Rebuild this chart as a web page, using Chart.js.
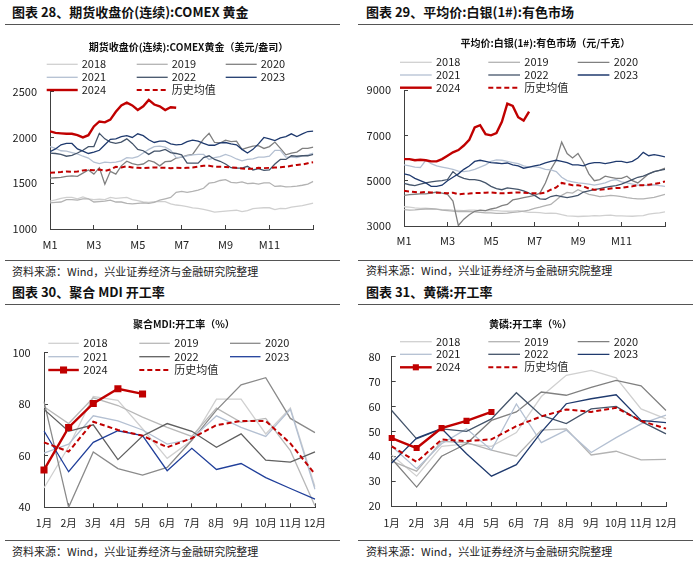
<!DOCTYPE html>
<html><head><meta charset="utf-8">
<script src="https://cdn.jsdelivr.net/npm/chart.js@4.4.1/dist/chart.umd.min.js"></script>
<style>
body{margin:0;width:700px;height:562px;background:#fff;position:relative;overflow:hidden;font-family:"Noto Sans CJK SC",sans-serif}
.ttl{position:absolute;font-weight:bold;font-size:13px;color:#111;white-space:nowrap;line-height:16px}
.sep{position:absolute;height:0;border-top:1.3px solid #555}
.src{position:absolute;font-size:11px;color:#222;white-space:nowrap;line-height:14px}
canvas{position:absolute}
</style></head><body>
<div class="ttl" style="left:12px;top:4px">图表 28、期货收盘价(连续):COMEX 黄金</div>
<div class="ttl" style="left:366px;top:4px">图表 29、平均价:白银(1#):有色市场</div>
<div class="ttl" style="left:12px;top:284px">图表 30、聚合 MDI 开工率</div>
<div class="ttl" style="left:366px;top:284px">图表 31、黄磷:开工率</div>
<div class="sep" style="left:5px;top:24px;width:335px"></div>
<div class="sep" style="left:358px;top:24px;width:335px"></div>
<div class="sep" style="left:5px;top:260px;width:335px"></div>
<div class="sep" style="left:358px;top:260px;width:335px"></div>
<div class="sep" style="left:5px;top:304px;width:335px"></div>
<div class="sep" style="left:358px;top:304px;width:335px"></div>
<div class="sep" style="left:5px;top:540px;width:335px"></div>
<div class="sep" style="left:358px;top:540px;width:335px"></div>
<div class="src" style="left:12px;top:264px">资料来源：Wind，兴业证券经济与金融研究院整理</div>
<div class="src" style="left:366px;top:263px">资料来源：Wind，兴业证券经济与金融研究院整理</div>
<div class="src" style="left:12px;top:544px">资料来源：Wind，兴业证券经济与金融研究院整理</div>
<div class="src" style="left:366px;top:544px">资料来源：Wind，兴业证券经济与金融研究院整理</div>
<canvas id="c1" width="350" height="234" style="left:0;top:26px"></canvas>
<canvas id="c2" width="350" height="234" style="left:350px;top:26px"></canvas>
<canvas id="c3" width="350" height="234" style="left:0;top:306px"></canvas>
<canvas id="c4" width="350" height="234" style="left:350px;top:306px"></canvas>
<script>
// ---------- labels ----------
const SERIES_LABELS = ['2018','2019','2020','2021','2022','2023','2024','历史均值'];
const MONTH_LABELS = ['1月','2月','3月','4月','5月','6月','7月','8月','9月','10月','11月','12月'];
const GOLD_TICKS = ['M1','M3','M5','M7','M9','M11',''];
const TITLES = ['期货收盘价(连续):COMEX黄金（美元/盎司）','平均价:白银(1#):有色市场（元/千克）','聚合MDI:开工率（%）','黄磷:开工率（%）'];

// ---------- gold (weekly samples, 4 per month) ----------
const gold2018 = [1305,1318,1335,1345, 1345,1330,1350,1330, 1320,1325,1320,1345, 1335,1340,1345,1322, 1310,1295,1290,1300, 1298,1300,1275,1262, 1255,1245,1230,1225, 1215,1200,1185,1190, 1195,1200,1205,1190, 1200,1222,1228,1232, 1232,1212,1225,1222, 1240,1248,1255,1270, 1282];
const gold2019 = [1285,1290,1295,1320, 1322,1315,1330,1330, 1295,1300,1305,1315, 1295,1295,1280,1275, 1280,1285,1280,1290, 1315,1330,1345,1400, 1410,1400,1410,1425, 1445,1500,1510,1530, 1540,1510,1505,1515, 1495,1500,1490,1505, 1505,1465,1470,1460, 1462,1468,1478,1490, 1520];
const gold2020 = [1555,1560,1565,1575, 1580,1575,1610,1645, 1600,1670,1490,1630, 1600,1690,1740,1715, 1700,1710,1750,1730, 1690,1735,1740,1775, 1785,1805,1815,1900, 1985,2045,1945,1940, 1970,1955,1960,1870, 1890,1905,1910,1880, 1900,1950,1880,1810, 1830,1840,1880,1880, 1895];
const gold2021 = [1900,1880,1855,1850, 1835,1820,1795,1775, 1730,1715,1730,1725, 1730,1745,1780,1775, 1790,1830,1870,1900, 1905,1895,1860,1780, 1785,1800,1810,1815, 1815,1760,1780,1790, 1815,1795,1765,1745, 1760,1765,1785,1785, 1795,1860,1860,1785, 1785,1780,1800,1810, 1830];
const gold2022 = [1830,1825,1815,1795, 1805,1830,1860,1900, 1900,2045,1985,1950, 1935,1950,1985,1935, 1870,1855,1815,1850, 1850,1870,1835,1825, 1810,1720,1720,1720, 1780,1800,1760,1740, 1710,1670,1665,1665, 1685,1645,1660,1640, 1645,1710,1760,1760, 1800,1795,1800,1800, 1815];
const gold2023 = [1845,1875,1920,1935, 1935,1875,1850,1825, 1840,1860,1920,1980, 1985,2010,2020,2000, 2040,2020,1975,1945, 1960,1960,1930,1920, 1925,1955,1970,1960, 1935,1915,1915,1940, 1945,1930,1920,1870, 1830,1870,1930,2000, 1985,1965,1995,2010, 2040,2010,2040,2065, 2070];
const gold2024 = [2067,2050,2045,2040, 2040,2025,2000,2025, 2120,2175,2165,2195, 2280,2350,2380,2350, 2300,2340,2410,2360, 2340,2300,2330,2325];
const goldAvg  = [1615,1618,1622,1628, 1625,1628,1640,1645, 1642,1650,1635,1650, 1680,1672,1685,1672, 1668,1665,1668,1672, 1670,1668,1665,1668, 1665,1668,1672,1682, 1690,1690,1682,1680, 1678,1672,1668,1660, 1655,1660,1668,1665, 1668,1672,1675,1680, 1690,1700,1705,1718, 1730];

// ---------- silver (weekly samples) ----------
const silver2018 = [3850,3830,3800,3780, 3790,3770,3740,3720, 3720,3700,3690,3680, 3700,3700,3680,3670, 3680,3680,3660,3650, 3660,3680,3640,3600, 3600,3590,3560,3570, 3560,3500,3450,3440, 3420,3430,3440,3460, 3450,3470,3480,3450, 3450,3440,3430,3450, 3460,3520,3560,3580, 3620];
const silver2019 = [3720,3700,3710,3730, 3750,3760,3740,3700, 3680,3660,3640,3650, 3640,3620,3600,3580, 3580,3560,3560,3570, 3600,3620,3660,3700, 3780,3830,3900,3950, 4150,4350,4480,4450, 4600,4500,4400,4350, 4300,4320,4350,4330, 4300,4250,4220,4200, 4200,4230,4260,4330, 4400];
const silver2020 = [4350,4380,4400,4420, 4420,4450,4500,4450, 4400,4100,3020,3300, 3500,3650,3700,3680, 3750,3800,3900,3950, 4150,4200,4250,4300, 4350,4450,4900,5500, 5900,6700,6200,6000, 6200,5800,5300,5000, 5050,5200,5150,5100, 5100,5200,5000,4900, 5100,5300,5400,5450, 5550];
const silver2021 = [5700,5650,5600,5580, 5900,5750,5650,5600, 5550,5500,5420,5400, 5430,5500,5600,5700, 5850,5920,5900,5850, 5800,5750,5650,5600, 5620,5580,5500,5480, 5400,5150,5000,4950, 4900,4880,4850,4800, 4850,4900,5000,5050, 4950,4900,4850,4800, 4800,4780,4820,4780, 4750];
const silver2022 = [4880,4820,4780,4850, 4900,4950,4980,5000, 5050,5400,5200,5100, 5050,5050,5000,4900, 4750,4650,4600,4680, 4650,4620,4550,4450, 4350,4200,4180,4300, 4350,4300,4250,4300, 4350,4500,4550,4600, 4650,4700,4750,4780, 4850,4950,5050,5150, 5200,5300,5400,5450, 5500];
const silver2023 = [5300,5250,5100,5000, 4900,4750,4750,4800, 5000,5150,5300,5500, 5650,5850,5900,5850, 5800,5780,5750,5780, 5700,5650,5550,5600, 5650,5700,5780,5850, 5900,5850,5800,5700, 5700,5650,5750,5800, 5800,5750,5800,5850, 5850,5800,5850,6000, 6250,6100,6150,6100, 6050];
const silver2024 = [5950,5950,5900,5920, 5900,5850,5850,5950, 6100,6250,6350,6550, 6800,7350,7450,7050, 7000,7100,7600,8400, 8300,7800,7650,8050];
const silverAvg  = [4550,4520,4500,4480, 4500,4480,4470,4460, 4450,4470,4400,4420, 4430,4450,4460,4470, 4480,4460,4440,4450, 4470,4480,4470,4450, 4450,4430,4470,4600, 4700,4900,4850,4800, 4800,4750,4650,4600, 4600,4620,4650,4680, 4680,4720,4750,4800, 4800,4820,4850,4900, 4970];

// ---------- MDI operating rate (monthly) ----------
const mdi2018 = [47.5,63.5,83,81.5,70.5,59,66,82,82,68.5,78.5,48];
const mdi2019 = [79,72.5,82.5,79.5,75,71,67.5,78.5,73,74.5,62,40.5];
const mdi2020 = [81,40,61.5,55,52.5,55.5,66,77.7,87.5,90.3,74.5,69];
const mdi2021 = [61,64.5,75.5,73.5,70,64.5,66.5,75.5,71,67.5,78,47];
const mdi2022 = [78,69.5,72,58.5,67.7,72.5,69.5,63.3,68.5,58.3,57.5,61.5];
const mdi2023 = [69.6,53.8,65.2,69.7,67.8,54.2,62.9,54.7,57,51.5,47.3,43.2];
const mdi2024 = [54.5,71,80.3,86,84];
const mdiAvg  = [65.2,61.6,73.2,70,67.8,63.3,66.8,71.9,73.5,73.5,64.8,52.9];

// ---------- yellow phosphorus operating rate (monthly) ----------
const ph2018 = [40.5,32,44,45,44,49.5,64,72.5,74.5,71.5,59,55];
const ph2019 = [38,34,46,45.5,42.5,40,50.5,51,40.5,42,38.5,38.7];
const ph2020 = [39,27.6,40,45,54.4,57.8,65.8,64.5,67.7,70.5,68.3,58.4];
const ph2021 = [44,35,45,51,42.5,61,45.5,50.5,41.5,47.5,53,56.5];
const ph2022 = [58.4,47,51,50,55,65.5,56.4,53.1,59,60,54,49];
const ph2023 = [37.3,47.3,51.1,41,32,36.6,49.7,61.1,63.1,64.7,54.4,53.5];
const ph2024 = [47.3,43.3,51.3,54.2,57.8];
const phAvg  = [44,37.7,46.7,46.1,46.8,52.1,56,58.8,57.8,59.5,54.2,51.1];

// ---------- styles ----------
Chart.defaults.font.family = '"Noto Sans CJK SC", sans-serif';
Chart.defaults.font.size = 11;
Chart.defaults.color = '#222';
const RED = '#c00000';
const GREYS_A = ['#d0d0d0','#b3b3b3','#808080','#b4c0d2','#44546a','#1f3a6e'];
const GREYS_B = ['#d0d0d0','#b8b8b8','#8a8a8a','#b4c0d2','#606060','#203f9a'];

const weekly = arr => arr.map((v,i)=>({x:i/4,y:v}));

function buildSets(years, avg, cur, greys, marker, xform){
  const sets = years.map((arr,i)=>({label:SERIES_LABELS[i],data:xform(arr),borderColor:greys[i],backgroundColor:greys[i],
    borderWidth:1.3,pointRadius:0,tension:0,order:8-i}));
  sets.push({label:SERIES_LABELS[6],data:xform(cur),borderColor:RED,backgroundColor:RED,borderWidth:2.4,
    pointRadius:marker?marker:0,pointStyle:'rect',pointBorderWidth:0,tension:0,order:0});
  sets.push({label:SERIES_LABELS[7],data:xform(avg),borderColor:RED,backgroundColor:RED,borderWidth:2,
    borderDash:[5,3],pointRadius:0,tension:0,order:1});
  return sets;
}

const deco = {
  id:'deco',
  afterDraw(chart, args, o){
    const ctx = chart.ctx; ctx.save();
    ctx.font = 'bold 10px "Noto Sans CJK SC"'; ctx.fillStyle = '#111';
    ctx.textAlign = 'center'; ctx.textBaseline = 'middle';
    ctx.fillText(o.title, o.tx, o.ty);
    ctx.font = '11px "Noto Sans CJK SC"'; ctx.textAlign = 'left';
    chart.data.datasets.forEach((ds,i)=>{
      const x = o.cols[i%3], y = o.rows[Math.floor(i/3)];
      ctx.strokeStyle = ds.borderColor; ctx.lineWidth = ds.borderWidth;
      ctx.setLineDash(ds.borderDash || []);
      ctx.beginPath(); ctx.moveTo(x,y); ctx.lineTo(x+o.len,y); ctx.stroke();
      ctx.setLineDash([]);
      if (ds.pointRadius > 0) {
        const s = ds.pointRadius*Math.SQRT2;
        ctx.fillStyle = ds.borderColor; ctx.fillRect(x+o.len/2-s/2, y-s/2, s, s);
      }
      ctx.fillStyle = '#222'; ctx.fillText(ds.label, x+o.len+o.gap, y);
    });
    ctx.restore();
  }
};

function axisCommon(){
  return {border:{color:'#404040',width:1},grid:{display:true,drawOnChartArea:false,drawTicks:true,tickLength:-4,color:'#404040'}};
}

function makeChart(id, sets, xType, yMin, yMax, yStep, L){
  const xs = Object.assign(axisCommon(), {type:xType, afterFit(s){s.height=L.xH;},
    ticks:{padding:L.xPad,autoSkip:false,maxRotation:0,color:'#222',font:{size:L.xFont||11}}});
  if (xType==='linear'){
    xs.min = 0; xs.max = 12;
    xs.ticks.stepSize = 2;
    xs.ticks.callback = v => GOLD_TICKS[v/2];
  } else {
    xs.labels = MONTH_LABELS;
    xs.offset = false;
  }
  const ys = Object.assign(axisCommon(), {min:yMin,max:yMax,afterFit(s){s.width=L.yW;},
    ticks:{stepSize:yStep,padding:L.yPad,color:'#222',callback:v=>String(v)}});
  return new Chart(document.getElementById(id), {
    type:'line',
    data:{datasets:sets},
    options:{responsive:false,animation:false,devicePixelRatio:1,
      layout:{padding:{top:L.top,right:L.right,left:0,bottom:0}},
      plugins:{legend:{display:false},tooltip:{enabled:false},title:{display:false},
        deco:{title:L.title,tx:L.tx,ty:L.ty,rows:L.rows,cols:L.cols,len:L.len,gap:L.gap}},
      scales:{x:xs,y:ys}},
    plugins:[deco]
  });
}

makeChart('c1', buildSets([gold2018,gold2019,gold2020,gold2021,gold2022,gold2023], goldAvg, gold2024, GREYS_A, 0, weekly),
  'linear', 1000, 2500, 500,
  {top:65.7,right:36.7,yW:50,xH:31,yPad:17,xPad:12.9,title:TITLES[0],tx:188.5,ty:21,
   rows:[38.3,51.3,64],cols:[46.7,136.7,225.7],len:31,gap:4});

makeChart('c2', buildSets([silver2018,silver2019,silver2020,silver2021,silver2022,silver2023], silverAvg, silver2024, GREYS_A, 0, weekly),
  'linear', 3000, 9000, 2000,
  {top:64,right:35,yW:54,xH:34,yPad:17,xPad:12.4,title:TITLES[1],tx:195.3,ty:17.3,
   rows:[36.3,49,61.7],cols:[50,138.3,227.7],len:31.7,gap:4.3});

const plain = a => a.slice();
makeChart('c3', buildSets([mdi2018,mdi2019,mdi2020,mdi2021,mdi2022,mdi2023], mdiAvg, mdi2024, GREYS_B, 5, plain),
  'category', 40, 100, 20,
  {top:46.7,right:35,yW:44,xH:32.7,yPad:17.3,xPad:13.6,xFont:10.5,title:TITLES[2],tx:183.9,ty:18.3,
   rows:[37.3,50.7,64],cols:[48.3,139.3,230],len:30.5,gap:4.5});

makeChart('c4', buildSets([ph2018,ph2019,ph2020,ph2021,ph2022,ph2023], phAvg, ph2024, GREYS_A, 4.3, plain),
  'category', 20, 80, 10,
  {top:50.7,right:34,yW:41.7,xH:34,yPad:15,xPad:14.9,xFont:10.5,title:TITLES[3],tx:180.5,ty:18.3,
   rows:[35.7,48.3,61.3],cols:[50,138.3,227.7],len:31.7,gap:4.3});
</script>
</body></html>
